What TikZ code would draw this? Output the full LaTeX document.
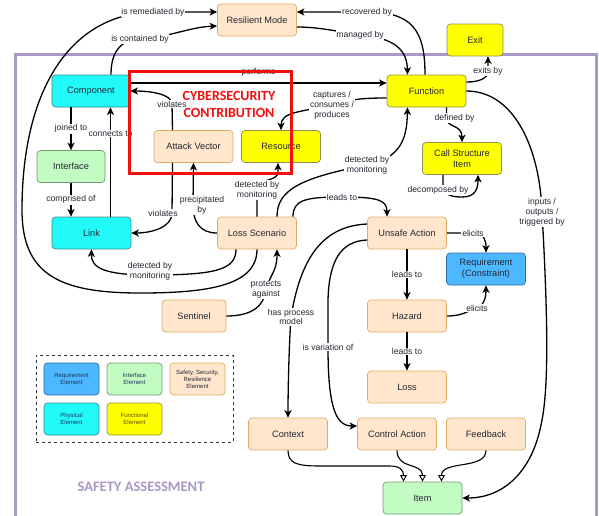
\documentclass[tikz,border=0pt]{standalone}
\usepackage{fontspec}
\setmainfont{Liberation Sans}
\newfontfamily\titlefont{Carlito}
\usetikzlibrary{arrows.meta}
\definecolor{peachF}{HTML}{FFE6CC}
\definecolor{peachD}{HTML}{E0AC62}
\definecolor{cyanF}{HTML}{22FAFA}
\definecolor{cyanD}{HTML}{3E8C8E}
\definecolor{yelF}{HTML}{FFFF00}
\definecolor{yelD}{HTML}{8E8E50}
\definecolor{grnF}{HTML}{C2FCC2}
\definecolor{grnD}{HTML}{709A70}
\definecolor{bluF}{HTML}{4DB8FF}
\definecolor{bluD}{HTML}{2E6EA6}
\definecolor{frameC}{HTML}{A899C6}
\definecolor{txtC}{HTML}{262633}
\definecolor{redC}{HTML}{F01010}
\definecolor{legT}{HTML}{1F3560}
\definecolor{legF}{HTML}{6B4A00}
\begin{document}
\begin{tikzpicture}[x=1pt,y=-1pt,
 box/.style={rounded corners=3.5pt, minimum width=79pt, minimum height=32pt, inner sep=1pt, align=center, font=\fontsize{9.2}{11}\selectfont, text=txtC, line width=0.7pt},
 peach/.style={box, fill=peachF, draw=peachD},
 cyanbox/.style={box, fill=cyanF, draw=cyanD},
 yelbox/.style={box, fill=yelF, draw=yelD},
 grnbox/.style={box, fill=grnF, draw=grnD},
 blubox/.style={box, fill=bluF, draw=bluD},
 lbl/.style={fill=white, inner sep=0.8pt, font=\fontsize{8.6}{9.8}\selectfont, text=txtC, align=center},
 arr/.style={line width=1.3pt, -{Stealth[length=7.5pt,width=7pt,inset=2pt]}},
 oarr/.style={line width=1.1pt, -{Triangle[fill=white,length=6.5pt,width=6.5pt,line width=0.9pt]}},
 leg/.style={rounded corners=3.5pt, minimum width=55pt, minimum height=32pt, inner sep=1pt, align=center, font=\fontsize{6}{6.9}\selectfont, line width=0.7pt, text=legT}
]
\useasboundingbox (0,0) rectangle (599,515);
\clip (0,0) rectangle (599,515);
\fill[white] (0,0) rectangle (599,515);

% frame
\draw[frameC, line width=3pt] (15,54) rectangle (596,540);

% legend
\node[draw=black!80, dashed, line width=0.6pt, minimum width=197pt, minimum height=87pt, inner sep=0pt] (legend) at (134.5,398.5) {};
\node[leg, fill=bluF, draw=bluD] (lg1) at (71.5,379) {Requirement\\Element};
\node[leg, fill=grnF, draw=grnD] (lg2) at (134.5,379) {Interface\\Element};
\node[leg, fill=peachF, draw=peachD, text=txtC] (lg3) at (197.5,379) {Safety, Security,\\Resilience\\Element};
\node[leg, fill=cyanF, draw=cyanD] (lg4) at (71.5,419) {Physical\\Element};
\node[leg, fill=yelF, draw=yelD, text=legF] (lg5) at (134.5,419) {Functional\\Element};

% nodes
\node[peach] (resil) at (257,20) {Resilient Mode};
\node[yelbox, minimum width=56pt] (exit) at (475,40) {Exit};
\node[cyanbox, minimum width=78pt] (comp) at (91,91) {Component};
\node[yelbox] (func) at (426.5,91) {Function};
\node[peach] (av) at (193.5,146.5) {Attack Vector};
\node[yelbox] (res) at (281,146.5) {Resource};
\node[grnbox, minimum width=68pt] (intf) at (71,166.5) {Interface};
\node[cyanbox] (link) at (91.5,233) {Link};
\node[peach] (ls) at (257,233) {Loss Scenario};
\node[yelbox] (csi) at (462,158.5) {Call Structure\\Item};
\node[peach] (ua) at (407,233) {Unsafe Action};
\node[blubox] (req) at (486,269) {Requirement\\(Constraint)};
\node[peach, minimum width=64pt] (sent) at (194,316) {Sentinel};
\node[peach] (haz) at (407,316) {Hazard};
\node[peach] (loss) at (407,387) {Loss};
\node[peach] (ctx) at (288,434) {Context};
\node[peach] (ca) at (397,434) {Control Action};
\node[peach] (fb) at (486,434) {Feedback};
\node[grnbox] (item) at (422.5,498) {Item};

% edges
\draw[arr] ([xshift=20pt]comp.north) .. controls (111,55) and (118,40) .. (140,39) node[lbl]{is contained by} .. controls (170,37) and (190,27) .. ([yshift=-6pt]resil.west);
\draw[arr] (ls.south) .. controls (257,285) and (210,293) .. (140,293) .. controls (60,293) and (22,275) .. (22,210) .. controls (22,90) and (70,14) .. (153,12) node[lbl]{is remediated by} -- ([yshift=8pt]resil.west);
\draw[arr] ([yshift=-7pt]resil.east) .. controls (320,27) and (340,32) .. (360,35) node[lbl]{managed by} .. controls (395,38) and (407,50) .. ([xshift=-19pt]func.north);
\draw[arr] ([xshift=-1.5pt]func.north) .. controls (425,30) and (412,12) .. (367,12) node[lbl]{recovered by} -- ([yshift=8pt]resil.east);
\draw[arr] ([yshift=9pt]func.east) .. controls (478,82) and (488,79) .. (488,71) node[lbl]{exits by} -- ([xshift=13pt]exit.south);
\draw[arr] ([yshift=8pt]comp.east) -- node[lbl, pos=0.5, yshift=11pt]{performs} ([yshift=8pt]func.west);
\draw[arr] ([yshift=-7pt]func.west) .. controls (365,98) and (350,99) .. (332,105) node[lbl]{captures /\\consumes /\\produces} .. controls (300,112) and (281,112) .. (res.north);
\draw[arr] ([xshift=-21pt]av.north) -- (172,104) node[lbl]{violates} .. controls (172,94) and (150,91) .. (comp.east);
\draw[arr] ([xshift=-21pt]av.south) -- (172,213) node[lbl, xshift=-9pt]{violates} .. controls (172,228) and (150,233) .. (link.east);
\draw[arr] (ls.west) .. controls (200,233) and (193,222) .. (193,205) node[lbl, xshift=9pt]{precipitated\\by} -- (av.south);
\draw[arr] (ls.north) -- (257,190) node[lbl]{detected by\\monitoring} .. controls (257,178) and (278,182) .. (278,172) -- ([xshift=-3pt]res.south);
\draw[arr] ([xshift=20pt]ls.north) .. controls (277,190) and (300,178) .. (367,165) node[lbl]{detected by\\monitoring} .. controls (400,158) and (407,140) .. ([xshift=-19pt]func.south);
\draw[arr] ([xshift=36pt]ls.north) .. controls (293,200) and (305,197) .. (342,197) node[lbl]{leads to} .. controls (378,197) and (387,200) .. ([xshift=-20pt]ua.north);
\draw[arr] (ua.east) -- (473,233) node[lbl]{elicits} .. controls (484,233) and (486,240) .. (req.north);
\draw[arr] (haz.east) .. controls (465,316) and (470,309) .. (477,308) node[lbl]{elicits} .. controls (485,305) and (486,295) .. (req.south);
\draw[arr] (ua.south) -- node[lbl]{leads to} (haz.north);
\draw[arr] (haz.south) -- node[lbl]{leads to} (loss.north);
\draw[arr] ([xshift=20pt]func.south) -- (446.5,118) node[lbl, xshift=8pt]{defined by} .. controls (446.5,128) and (462,124) .. (csi.north);
\draw[arr] ([xshift=-19pt]csi.south) -- (443,186) node[lbl, xshift=-5pt, yshift=-4pt]{decomposed by} .. controls (443,194) and (450,197) .. (462,197) .. controls (476,197) and (478,188) .. ([xshift=16pt]csi.south);
\draw[arr] (func.east) .. controls (515,91) and (540,150) .. (542,212) node[lbl]{inputs /\\outputs /\\triggered by} .. controls (548,320) and (549,390) .. (541,425) .. controls (532,470) and (505,498) .. (item.east);
\draw[arr] ([yshift=9pt]ua.west) .. controls (320,226) and (300,262) .. (291,317) node[lbl]{has process\\model} .. controls (289,345) and (288,390) .. (ctx.north);
\draw[arr] ([yshift=-7pt]ua.west) .. controls (340,241) and (329,262) .. (328,300) -- (328,347) node[lbl]{is variation of} .. controls (328,408) and (336,426) .. ([yshift=8pt]ca.west);
\draw[oarr] (ctx.south) .. controls (288,463) and (296,466) .. (320,466) -- (390,466) .. controls (400,466) and (403.5,470) .. ([xshift=-19pt]item.north);
\draw[oarr] (ca.south) .. controls (397,470) and (422.5,462) .. (item.north);
\draw[oarr] (fb.south) .. controls (486,470) and (441.5,460) .. ([xshift=19pt]item.north);
\draw[arr] (intf.north |- comp.south) -- node[lbl]{joined to} (intf.north);
\draw[arr] (intf.south) -- node[lbl]{comprised of} (intf.south |- link.north);
\draw[arr] ([xshift=19pt]link.north) -- node[lbl, pos=0.76]{connects to} ([xshift=19pt]link.north |- comp.south);
\draw[arr] ([xshift=-21pt]ls.south) .. controls (236,270) and (215,275) .. (150,275) node[lbl, yshift=4pt]{detected by\\monitoring} .. controls (105,275) and (91,268) .. (link.south);
\draw[arr] (sent.east) .. controls (252,316) and (264,306) .. (266,290) node[lbl]{protects\\against} .. controls (270,274) and (277,272) .. ([xshift=20pt]ls.south);

% cybersecurity box
\draw[redC, line width=3pt] (129,71) rectangle (291,173);
\node[font=\titlefont\bfseries\fontsize{14}{17}\selectfont, text=redC, align=center] (cyber) at (229,104.5) {CYBERSECURITY\\CONTRIBUTION};
\node[font=\titlefont\bfseries\fontsize{14.5}{17}\selectfont, text=frameC] (title) at (141,487) {SAFETY ASSESSMENT};
\end{tikzpicture}
\end{document}
